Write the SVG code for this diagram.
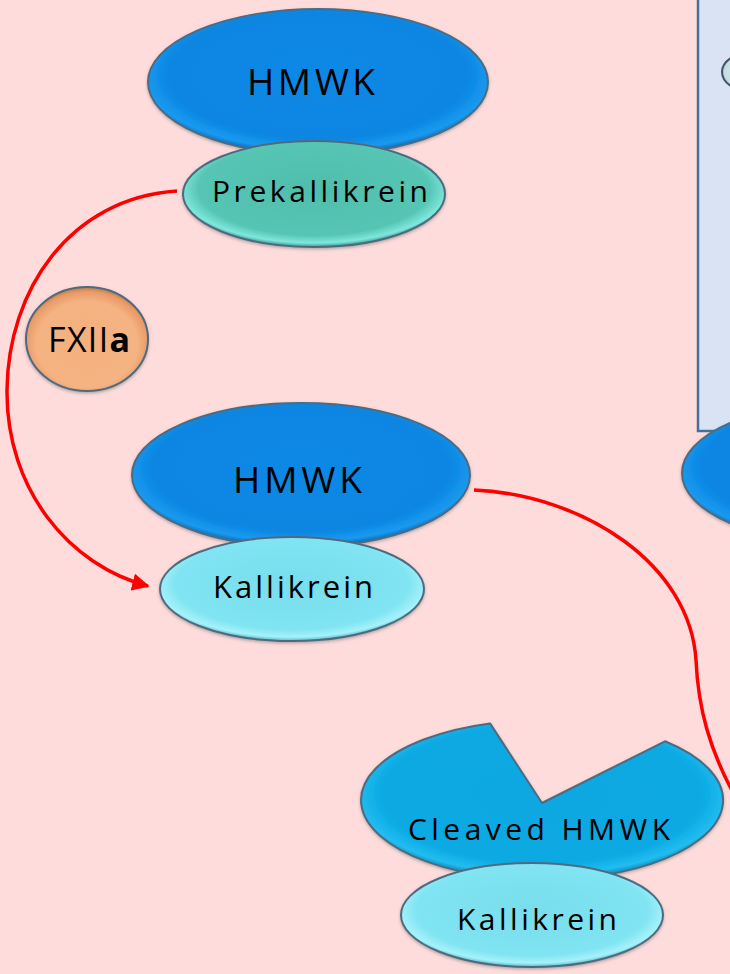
<svg xmlns="http://www.w3.org/2000/svg" width="730" height="974" viewBox="0 0 730 974">
<style>
.lbl{font-family:"Open Sans","Liberation Sans",sans-serif;fill:#000;text-anchor:start}
.edge{fill:none;stroke:#FF0000;stroke-width:3.5}
.ol{stroke:#4E6B80;stroke-width:2}
</style>
<defs>
<radialGradient id="gBlue" cx="0.5" cy="0.45" r="0.55">
<stop offset="0" stop-color="#0B88E4"/><stop offset="0.8" stop-color="#0A86E2"/><stop offset="0.93" stop-color="#1A9AF0"/><stop offset="1" stop-color="#0868B8"/>
</radialGradient>
<radialGradient id="gCleaved" cx="0.5" cy="0.45" r="0.55">
<stop offset="0" stop-color="#08A8E2"/><stop offset="0.8" stop-color="#09A9E3"/><stop offset="0.93" stop-color="#22BDF0"/><stop offset="1" stop-color="#0A84B8"/>
</radialGradient>
<radialGradient id="gTeal" cx="0.5" cy="0.45" r="0.55">
<stop offset="0" stop-color="#4FBEAC"/><stop offset="0.8" stop-color="#56C5B3"/><stop offset="0.93" stop-color="#7FE8DC"/><stop offset="1" stop-color="#3A9A8C"/>
</radialGradient>
<radialGradient id="gCyan" cx="0.5" cy="0.45" r="0.55">
<stop offset="0" stop-color="#78DDEC"/><stop offset="0.8" stop-color="#80E4F2"/><stop offset="0.93" stop-color="#A6F2FA"/><stop offset="1" stop-color="#58B8C8"/>
</radialGradient>
<radialGradient id="gOrange" cx="0.5" cy="0.55" r="0.55">
<stop offset="0" stop-color="#F4B07E"/><stop offset="0.75" stop-color="#F5B383"/><stop offset="0.92" stop-color="#E89A66"/><stop offset="1" stop-color="#B87850"/>
</radialGradient>
<radialGradient id="gSilver" cx="0.5" cy="0.5" r="0.55">
<stop offset="0" stop-color="#E8F2F6"/><stop offset="0.85" stop-color="#C8DCE4"/><stop offset="1" stop-color="#5A7A88"/>
</radialGradient>
<marker id="arr" viewBox="0 0 10 10" refX="9" refY="5" markerWidth="5" markerHeight="5" orient="auto" markerUnits="strokeWidth">
<path d="M0,0 L10,5 L0,10 Z" fill="#FF0000"/>
</marker>
<filter id="sh" x="-10%" y="-10%" width="120%" height="130%">
<feDropShadow dx="0" dy="1.5" stdDeviation="1.5" flood-color="#6A6A6A" flood-opacity="0.5"/>
</filter>
</defs>
<rect x="0" y="0" width="730" height="974" fill="#FEDCDB"/>
<g id="panel">
<rect x="698" y="-5" width="60" height="436" fill="#DAE3F3" stroke="#41719C" stroke-width="2.5"/>
<ellipse cx="760" cy="72" rx="38" ry="22" fill="url(#gSilver)" stroke="#3E5664" stroke-width="2"/>
</g>
<g id="panel-hmwk">
<ellipse cx="852" cy="473" rx="170" ry="72" fill="url(#gBlue)" class="ol" filter="url(#sh)"/>
</g>
<g id="connectors">
<path class="edge" d="M177,191 C70,198 8,290 7,390 C6,490 70,566 148,586" marker-end="url(#arr)"/>
<path class="edge" d="M474,490 C585,495 690,565 696,660 C698,705 708,750 740,805"/>
</g>
<g id="hmwk1">
<ellipse cx="318" cy="82" rx="170" ry="73" fill="url(#gBlue)" class="ol" filter="url(#sh)"/>
<text class="lbl" x="247" y="95" font-size="37" textLength="128" lengthAdjust="spacing">HMWK</text>
</g>
<g id="prekallikrein">
<ellipse cx="314" cy="194" rx="131" ry="53" fill="url(#gTeal)" class="ol" filter="url(#sh)"/>
<text class="lbl" x="212" y="202" font-size="30" textLength="216" lengthAdjust="spacing">Prekallikrein</text>
</g>
<g id="fxiia">
<ellipse cx="87" cy="339" rx="61" ry="52" fill="url(#gOrange)" class="ol" filter="url(#sh)"/>
<text class="lbl" x="48" y="352" font-size="34" textLength="82" lengthAdjust="spacing">FXII<tspan font-weight="bold">a</tspan></text>
</g>
<g id="hmwk2">
<ellipse cx="301" cy="475" rx="169" ry="72" fill="url(#gBlue)" class="ol" filter="url(#sh)"/>
<text class="lbl" x="233" y="493" font-size="37" textLength="129" lengthAdjust="spacing">HMWK</text>
</g>
<g id="kallikrein1">
<ellipse cx="292" cy="589" rx="132" ry="52" fill="url(#gCyan)" class="ol" filter="url(#sh)"/>
<text class="lbl" x="213" y="598" font-size="31" textLength="160" lengthAdjust="spacing">Kallikrein</text>
</g>
<g id="cleaved-hmwk">
<path d="M542,803 L490,723.4 A181,80 0 1,0 665,741.3 Z" fill="url(#gCleaved)" class="ol" stroke-linejoin="round" filter="url(#sh)"/>
<text class="lbl" x="408" y="840" font-size="30" textLength="262" lengthAdjust="spacing">Cleaved HMWK</text>
</g>
<g id="kallikrein2">
<ellipse cx="532" cy="915" rx="131" ry="52" fill="url(#gCyan)" class="ol" filter="url(#sh)"/>
<text class="lbl" x="457" y="930" font-size="30" textLength="160" lengthAdjust="spacing">Kallikrein</text>
</g>
</svg>
